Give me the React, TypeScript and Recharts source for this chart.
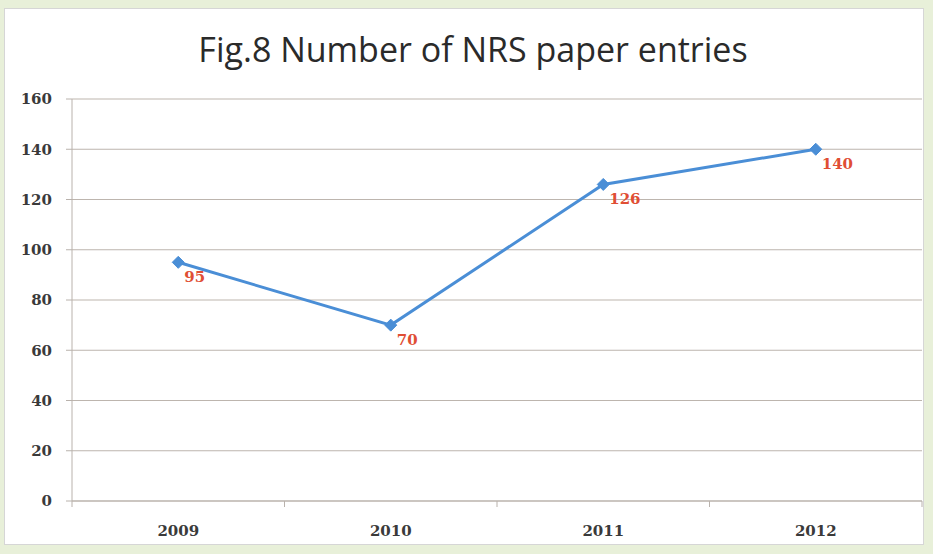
import React from "react";
import { LineChart, Line, XAxis, YAxis, CartesianGrid, LabelList } from "recharts";

// Yearly count of NRS paper entries
const years = ["2009", "2010", "2011", "2012"];
const entries = [95, 70, 126, 140];
const yTicks = [0, 20, 40, 60, 80, 100, 120, 140, 160];

const data = years.map((year, i) => ({ year, entries: entries[i] }));

const W = 933;
const H = 554;
const PLOT_LEFT = 72;
const PLOT_RIGHT = 922;
const BAND = (PLOT_RIGHT - PLOT_LEFT) / years.length;

const tickFont = "'DejaVu Serif', 'Liberation Serif', serif";

const Diamond = (props: any) => {
  const { cx, cy } = props;
  if (cx == null || cy == null) return null;
  const r = 6;
  return (
    <path
      d={`M${cx},${cy - r} L${cx + r},${cy} L${cx},${cy + r} L${cx - r},${cy} Z`}
      fill="#4a8ed6"
      stroke="#4a8ed6"
    />
  );
};

const XTick = (props: any) => {
  const { x, y, payload, index } = props;
  const left = x - BAND / 2;
  return (
    <g>
      <line x1={left} y1={y - 8} x2={left} y2={y - 2} stroke="#b9b2ac" />
      {index === years.length - 1 && (
        <line x1={x + BAND / 2} y1={y - 8} x2={x + BAND / 2} y2={y - 2} stroke="#b9b2ac" />
      )}
      <text
        x={x}
        y={y + 27}
        textAnchor="middle"
        fontFamily={tickFont}
        fontWeight="bold"
        fontSize={15}
        fill="#3a3a3a"
      >
        {payload.value}
      </text>
    </g>
  );
};

const ValueLabel = (props: any) => {
  const { x, y, value } = props;
  return (
    <text
      x={x + 6}
      y={y + 20}
      textAnchor="start"
      fontFamily={tickFont}
      fontWeight="bold"
      fontSize={15}
      fill="#e04e34"
    >
      {value}
    </text>
  );
};

export default function App() {
  return (
    <div
      style={{
        position: "absolute",
        left: 0,
        top: 0,
        width: W,
        height: H,
        background: "#e8f0d9",
        overflow: "hidden",
      }}
    >
      <div
        style={{
          position: "absolute",
          left: 4,
          top: 8,
          width: 920,
          height: 537,
          background: "#ffffff",
          border: "1px solid #d6d6d6",
          boxSizing: "border-box",
        }}
      />
      <div style={{ position: "absolute", left: 0, top: 0 }}>
        <LineChart
          width={W}
          height={H}
          data={data}
          margin={{ top: 99, right: W - PLOT_RIGHT, bottom: 23, left: 12 }}
        >
          <text
            x={473}
            y={62}
            textAnchor="middle"
            fontFamily="'Open Sans', 'Noto Sans', sans-serif"
            fontSize={34}
            fill="#2a2a2a"
          >
            Fig.8 Number of NRS paper entries
          </text>
          <CartesianGrid vertical={false} stroke="#bdb5ae" strokeWidth={1.2} />
          <XAxis
            dataKey="year"
            axisLine={{ stroke: "#b9b2ac" }}
            tickLine={false}
            tick={<XTick />}
            height={30}
            interval={0}
            padding={{ left: BAND / 2, right: BAND / 2 }}
          />
          <YAxis
            domain={[0, 160]}
            ticks={yTicks}
            width={60}
            axisLine={{ stroke: "#b9b2ac" }}
            tickLine={{ stroke: "#b9b2ac" }}
            tickSize={6}
            tickMargin={14}
            tick={{
              fontFamily: tickFont,
              fontWeight: "bold",
              fontSize: 15,
              fill: "#3a3a3a",
            }}
          />
          <Line
            dataKey="entries"
            stroke="#4a8ed6"
            strokeWidth={3}
            dot={<Diamond />}
            activeDot={false}
            isAnimationActive={false}
          >
            <LabelList dataKey="entries" content={<ValueLabel />} />
          </Line>
        </LineChart>
      </div>
    </div>
  );
}
